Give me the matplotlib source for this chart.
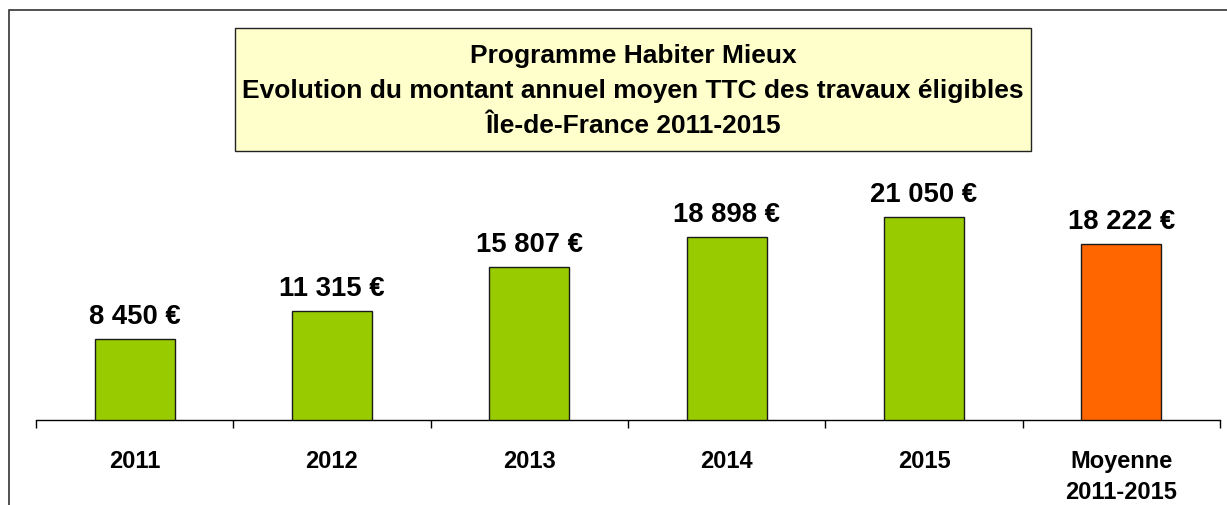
import matplotlib
matplotlib.use("Agg")
import matplotlib.pyplot as plt
from matplotlib.patches import Rectangle

categories = ["2011", "2012", "2013", "2014", "2015", "Moyenne\n2011-2015"]
values = [8450, 11315, 15807, 18898, 21050, 18222]
value_labels = ["8 450 €", "11 315 €", "15 807 €", "18 898 €", "21 050 €", "18 222 €"]
bar_colors = ["#99CC00", "#99CC00", "#99CC00", "#99CC00", "#99CC00", "#FF6600"]
title_lines = ["Programme Habiter Mieux",
               "Evolution du montant annuel moyen TTC des travaux éligibles",
               "Île-de-France 2011-2015"]

plt.rcParams['font.family'] = ['Liberation Sans', 'DejaVu Sans']

W, H = 1227, 506
fig = plt.figure(figsize=(W / 100, H / 100), dpi=100)
fig.patch.set_facecolor("white")

# outer chart border
fig.patches.append(Rectangle((9 / W, -0.1), 1.2, (H - 11) / H + 0.1, transform=fig.transFigure,
                             fill=False, edgecolor="#333333", linewidth=1.2))

ymax = 27000
px_per_unit = 0.00968
base_y = 421.3
ax_h = ymax * px_per_unit
ax = fig.add_axes([36 / W, (H - base_y) / H, (1220 - 36) / W, ax_h / H])
ax.set_facecolor("none")

x = list(range(len(categories)))
ax.bar(x, values, width=0.405, color=bar_colors, edgecolor="#1a1a1a", linewidth=1.0, zorder=3)
ax.set_xlim(-0.5, len(categories) - 0.5)
ax.set_ylim(0, ymax)

for xi, v, lab in zip(x, values, value_labels):
    ax.annotate(lab, (xi, v), xytext=(0, 11.5), textcoords="offset points",
                ha="center", va="baseline", fontsize=19.8, fontweight="bold", color="black")

for s in ["top", "left", "right"]:
    ax.spines[s].set_visible(False)
ax.spines["bottom"].set_linewidth(1.0)
ax.spines["bottom"].set_color("black")
ax.set_yticks([])

ax.set_xticks([i - 0.5 for i in range(len(categories) + 1)])
ax.set_xticklabels([])
ax.tick_params(axis="x", which="major", length=6, width=1.0, direction="out", color="black")
ax.set_xticks(x, minor=True)
ax.set_xticklabels(categories, minor=True, fontsize=17, fontweight="bold")
ax.tick_params(axis="x", which="minor", length=0, pad=21)
for t in ax.get_xticklabels(minor=True):
    t.set_linespacing(1.4)

# title box
bx0, bx1, by0, by1 = 235, 1031, 29, 152
fig.patches.append(Rectangle((bx0 / W, (H - by1) / H), (bx1 - bx0) / W, (by1 - by0) / H,
                             transform=fig.transFigure, facecolor="#FFFFCC",
                             edgecolor="#222222", linewidth=1.0, zorder=5))
cx = (bx0 + bx1) / 2 / W
for line, yb in zip(title_lines, [63, 98, 133]):
    fig.text(cx, (H - yb) / H, line, ha="center", va="baseline", fontsize=19,
             fontweight="bold", color="black", zorder=6)

fig.savefig("out.png", dpi=100)
